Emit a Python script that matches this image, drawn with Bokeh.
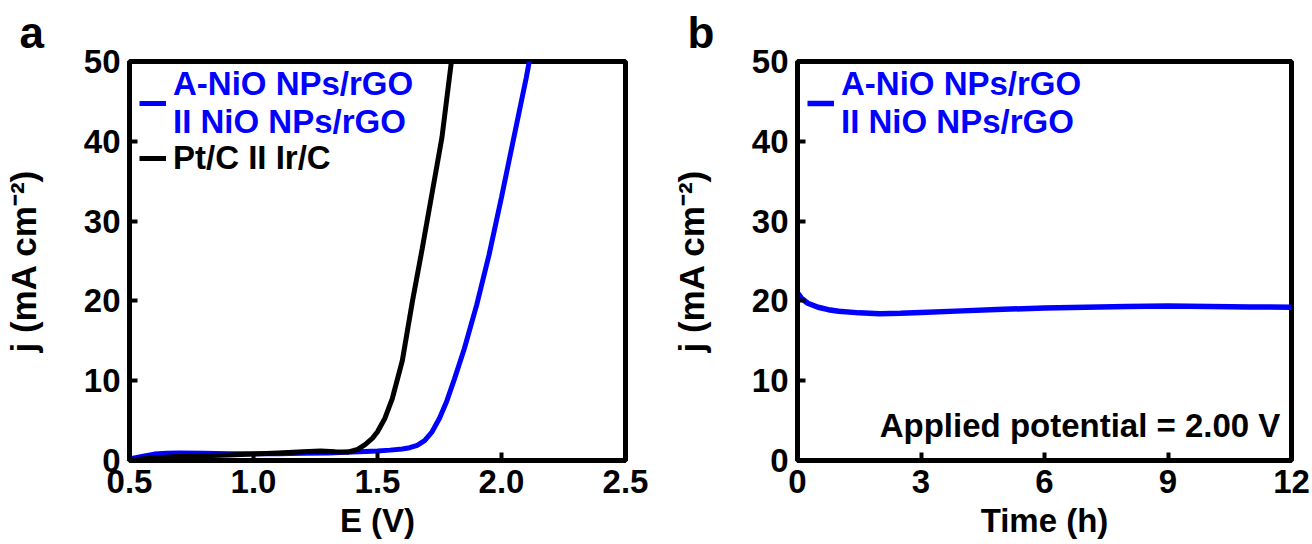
from bokeh.plotting import figure
from bokeh.models import Range1d, FixedTicker, NumeralTickFormatter, Legend, LegendItem, Label
from bokeh.layouts import row
from bokeh.embed import file_html
from bokeh.resources import INLINE

# ---- data ----
E_anio = [0.50, 0.55, 0.60, 0.65, 0.70, 0.80, 0.90, 1.00, 1.10, 1.20, 1.30, 1.40, 1.50, 1.55,
          1.60, 1.63, 1.66, 1.69, 1.72, 1.75, 1.78, 1.81, 1.85, 1.90, 1.95, 2.00, 2.05, 2.10, 2.115]
j_anio = [0.2, 0.5, 0.8, 0.9, 0.95, 0.9, 0.85, 0.85, 0.85, 0.9, 0.95, 1.05, 1.2, 1.3,
          1.45, 1.6, 1.9, 2.5, 3.6, 5.3, 7.5, 10.2, 14.0, 19.5, 25.8, 33.0, 40.5, 48.0, 50.5]
E_pt = [0.50, 0.55, 0.60, 0.70, 0.80, 0.90, 1.00, 1.10, 1.20, 1.27, 1.33, 1.38, 1.42, 1.45,
        1.48, 1.50, 1.53, 1.56, 1.60, 1.64, 1.68, 1.72, 1.76, 1.80]
j_pt = [0.0, 0.2, 0.35, 0.5, 0.6, 0.7, 0.8, 0.95, 1.1, 1.2, 1.1, 1.05, 1.4, 2.0,
        2.8, 3.6, 5.3, 7.8, 12.5, 19.8, 26.5, 33.5, 40.5, 50.5]
t_h = [0, 0.1, 0.25, 0.5, 0.75, 1.0, 1.5, 2.0, 2.5, 3, 4, 5, 6, 7, 8, 9, 10, 11, 12]
j_t = [21.0, 20.3, 19.7, 19.2, 18.9, 18.7, 18.5, 18.4, 18.45, 18.55, 18.75, 18.95, 19.1, 19.2,
       19.3, 19.35, 19.3, 19.25, 19.2]

x_ticks_a = [0.5, 1.0, 1.5, 2.0, 2.5]
x_ticks_b = [0, 3, 6, 9, 12]
y_ticks = [0, 10, 20, 30, 40, 50]

BLUE = "#0000ff"
FONT = "Liberation Sans"
FS = "33px"


def style(p, xlabel, letter):
    p.outline_line_color = "black"
    p.outline_line_width = 5
    p.xgrid.visible = False
    p.ygrid.visible = False
    p.background_fill_color = "white"
    p.border_fill_color = "white"
    for ax in (p.xaxis, p.yaxis):
        ax.axis_line_width = 5
        ax.axis_line_color = "black"
        ax.major_tick_in = 8
        ax.major_tick_out = 0
        ax.major_tick_line_width = 4
        ax.minor_tick_line_color = None
        ax.major_label_text_font = FONT
        ax.major_label_text_font_style = "bold"
        ax.major_label_text_font_size = FS
        ax.major_label_text_color = "black"
        ax.axis_label_text_font = FONT
        ax.axis_label_text_font_style = "bold"
        ax.axis_label_text_font_size = FS
        ax.axis_label_text_color = "black"
    p.yaxis.axis_label_text_font_size = "35px"
    p.xaxis.major_label_standoff = 9
    p.yaxis.major_label_standoff = 9
    p.xaxis.axis_label_standoff = 6
    p.yaxis.axis_label_standoff = 38
    p.xaxis.axis_label = xlabel
    p.yaxis.axis_label = "j (mA cm\u207b\u00b2)"
    p.yaxis.ticker = FixedTicker(ticks=y_ticks)
    p.title.text = letter
    p.title.align = "left"
    p.title.offset = -110
    p.title.standoff = 10
    p.title.text_font = FONT
    p.title.text_font_style = "bold"
    p.title.text_font_size = "44px"
    p.title.text_color = "black"


def legend(p, items, color, x, y):
    lg = Legend(items=items, location=(x, y), padding=0, margin=0, spacing=0,
                border_line_alpha=0, background_fill_alpha=0,
                glyph_width=27, glyph_height=20, label_standoff=7,
                label_text_font=FONT, label_text_font_style="bold",
                label_text_font_size=FS, label_text_color=color,
                label_text_line_height=1.0)
    p.add_layout(lg, "center")


# ---- panel a ----
pa = figure(width=664, height=542, x_range=Range1d(0.5, 2.5), y_range=Range1d(0, 50),
            min_border_left=128, min_border_right=39, min_border_top=61, min_border_bottom=82,
            output_backend="svg", toolbar_location=None)
style(pa, "E (V)", "a")
pa.xaxis.ticker = FixedTicker(ticks=x_ticks_a)
pa.xaxis.formatter = NumeralTickFormatter(format="0.0")
ra = pa.line(E_anio, j_anio, line_color=BLUE, line_width=5)
rp = pa.line(E_pt, j_pt, line_color="black", line_width=5)
legend(pa, [LegendItem(label="A-NiO NPs/rGO\nII NiO NPs/rGO", renderers=[ra])], BLUE, 10, 319)
legend(pa, [LegendItem(label="Pt/C II Ir/C", renderers=[rp])], "black", 10, 283)

# ---- panel b ----
pb = figure(width=647, height=542, x_range=Range1d(0, 12), y_range=Range1d(0, 50),
            min_border_left=133, min_border_right=20, min_border_top=61, min_border_bottom=82,
            output_backend="svg", toolbar_location=None)
style(pb, "Time (h)", "b")
pb.xaxis.ticker = FixedTicker(ticks=x_ticks_b)
rb = pb.line(t_h, j_t, line_color=BLUE, line_width=5.5)
legend(pb, [LegendItem(label="A-NiO NPs/rGO\nII NiO NPs/rGO", renderers=[rb])], BLUE, 10, 319)
pb.add_layout(Label(x=11.73, y=2.13, text="Applied potential = 2.00 V", text_align="right",
                    text_font=FONT, text_font_style="bold", text_font_size=FS,
                    text_color="black"))

p = row(pa, pb)
open("out.html", "w").write(file_html(p, INLINE))
